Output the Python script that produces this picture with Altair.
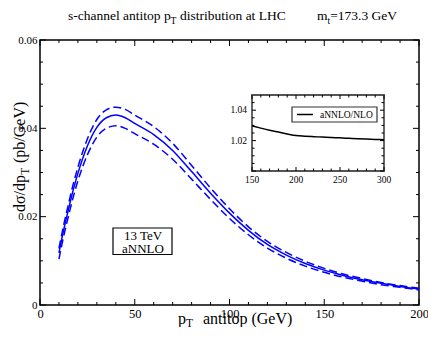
import altair as alt
import pandas as pd

FONT = "Liberation Serif"
W, H = 379, 265
PL, PT = 32, 32  # view origin on the page is (8+PL, 8+PT) = (40, 40)

# ---- data ----
pt = [10, 12.5, 15, 17.5, 20, 25, 30, 35, 40, 45, 50, 60, 70, 80, 90, 100,
      110, 120, 130, 140, 150, 160, 170, 180, 190, 200]
central = [0.0118, 0.0170, 0.0216, 0.0260, 0.0298, 0.0360, 0.0402, 0.0424, 0.0430,
           0.0424, 0.0411, 0.0386, 0.0350, 0.0302, 0.0253, 0.0208, 0.0169, 0.0137,
           0.0113, 0.0094, 0.0079, 0.0067, 0.0057, 0.0049, 0.0042, 0.0036]
upper = [0.0128, 0.0181, 0.0228, 0.0273, 0.0312, 0.0376, 0.0420, 0.0442, 0.0448,
         0.0443, 0.0430, 0.0404, 0.0366, 0.0316, 0.0265, 0.0218, 0.0177, 0.0144,
         0.0119, 0.0099, 0.0083, 0.0070, 0.0060, 0.0051, 0.0044, 0.0038]
lower = [0.0104, 0.0156, 0.0201, 0.0244, 0.0281, 0.0340, 0.0380, 0.0400, 0.0406,
         0.0400, 0.0388, 0.0364, 0.0330, 0.0285, 0.0239, 0.0196, 0.0159, 0.0129,
         0.0106, 0.0088, 0.0074, 0.0063, 0.0054, 0.0046, 0.0040, 0.0034]

ratio_pt = [150, 160, 170, 180, 190, 200, 210, 220, 230, 240, 250, 260, 270, 280, 290, 300]
ratio = [1.0297, 1.0282, 1.0268, 1.0256, 1.0244, 1.0233, 1.0229, 1.0226, 1.0223,
         1.0220, 1.0218, 1.0215, 1.0212, 1.0210, 1.0208, 1.0206]

x_major = [0, 50, 100, 150, 200]
x_minor = [10, 20, 30, 40, 60, 70, 80, 90, 110, 120, 130, 140, 160, 170, 180, 190]
y_major = [0, 0.02, 0.04, 0.06]
y_minor = [0.005, 0.01, 0.015, 0.025, 0.03, 0.035, 0.045, 0.05, 0.055]

ix_major = [150, 200, 250, 300]
ix_minor = [160, 170, 180, 190, 210, 220, 230, 240, 260, 270, 280, 290]
iy_major = [1.00, 1.02, 1.04]
iy_minor = [1.005, 1.01, 1.015, 1.025, 1.03, 1.035, 1.045]
ix_labels = [150, 200, 250, 300]
iy_labels = [1.02, 1.04]

# ---- scales / axes ----
xs = alt.Scale(domain=[0, 200], nice=False, zero=False)
ys = alt.Scale(domain=[0, 0.06], nice=False, zero=False)
xaxis = alt.Axis(values=x_major, ticks=False, domain=False, grid=False,
                 labelFont=FONT, labelFontSize=12.5, labelColor="black",
                 labelPadding=2, title=None, labelFlush=False)
yaxis = alt.Axis(values=y_major, ticks=False, domain=False, grid=False,
                 labelFont=FONT, labelFontSize=11, labelColor="black",
                 labelPadding=3, title=None, labelFlush=False,
                 labelExpr="datum.value == 0 ? '0' : format(datum.value, '.2f')")

IL, IR, IT, IB = 212, 344, 55, 131
isx = alt.Scale(domain=[150, 300], range=[IL, IR], nice=False, zero=False)
isy = alt.Scale(domain=[1.0, 1.05], range=[IB, IT], nice=False, zero=False)


def X(): return alt.X("x:Q", scale=xs, axis=xaxis)
def Y(): return alt.Y("y:Q", scale=ys, axis=yaxis)
def IX(): return alt.X("x:Q", scale=isx, axis=None)
def IY(): return alt.Y("y:Q", scale=isy, axis=None)


def curve(vals, dash=None):
    kw = dict(color="#0000ff", strokeWidth=1.5, interpolate="monotone")
    if dash:
        kw["strokeDash"] = dash
    return alt.Chart(pd.DataFrame({"x": pt, "y": vals})).mark_line(**kw).encode(x=X(), y=Y())


def xticks(vals, ln, xe, top, bottom, width=1.0):
    d = pd.DataFrame({"x": vals})
    b = alt.Chart(d).mark_rule(color="black", strokeWidth=width).encode(
        x=xe(), y=alt.value(bottom), y2=alt.value(bottom - ln))
    t = alt.Chart(d).mark_rule(color="black", strokeWidth=width).encode(
        x=xe(), y=alt.value(top), y2=alt.value(top + ln))
    return [b, t]


def yticks(vals, ln, ye, left, right, width=1.0):
    d = pd.DataFrame({"y": vals})
    l = alt.Chart(d).mark_rule(color="black", strokeWidth=width).encode(
        y=ye(), x=alt.value(left), x2=alt.value(left + ln))
    r = alt.Chart(d).mark_rule(color="black", strokeWidth=width).encode(
        y=ye(), x=alt.value(right), x2=alt.value(right - ln))
    return [l, r]


def label(text, x, y, size, align="left", angle=0, baseline="alphabetic"):
    kw = dict(font=FONT, fontSize=size, color="black", align=align, baseline=baseline)
    if angle:
        kw["angle"] = angle
    return alt.Chart(pd.DataFrame({"t": [text]})).mark_text(**kw).encode(
        x=alt.value(x), y=alt.value(y), text="t:N")


main_layers = [
    curve(upper, [8, 4]),
    curve(central),
    curve(lower, [8, 4]),
]
main_layers += xticks(x_major, 6, X, 0, H)
main_layers += xticks(x_minor, 3, X, 0, H)
main_layers += yticks(y_major, 6, Y, 0, W)
main_layers += yticks(y_minor, 3, Y, 0, W)

# title pieces
TB = -20
main_layers += [
    label("s-channel antitop p", 28, TB, 13.5),
    label("T", 130.6, TB + 3.5, 9.5),
    label("distribution at LHC", 140, TB, 13.5),
    label("m", 277, TB, 13.5),
    label("t", 287.5, TB + 3.5, 9.5),
    label("=173.3 GeV", 290.2, TB, 13.5),
]
# x title
XB = 283.5
main_layers += [
    label("p", 138, XB, 16),
    label("T", 146, XB + 3, 11.5),
    label("antitop (GeV)", 163, XB, 16),
]
# y title (rotated)
main_layers += [
    label("dσ/dp", -15, 172, 16, angle=270),
    label("T", -11.5, 134.7, 11.5, angle=270),
    label("(pb/GeV)", -15, 123, 16, angle=270),
]
# 13 TeV box
box = alt.Chart(pd.DataFrame({"a": [0]})).mark_rect(
    fill="white", stroke="black", strokeWidth=1.2).encode(
    x=alt.value(73), x2=alt.value(132), y=alt.value(188), y2=alt.value(214.5))
main_layers += [
    box,
    label("13 TeV", 103, 200, 13, align="center"),
    label("aNNLO", 103, 213, 13, align="center"),
]

# ---- inset ----
frame = alt.Chart(pd.DataFrame({"x": [150], "x2": [300], "y": [1.0], "y2": [1.05]})).mark_rect(
    fill="white", stroke="#555555", strokeWidth=1.8).encode(
    x=IX(), x2="x2:Q", y=IY(), y2="y2:Q")
inset_layers = [frame]
inset_layers += xticks(ix_major, 4, IX, IT, IB)
inset_layers += xticks(ix_minor, 2.5, IX, IT, IB)
inset_layers += yticks(iy_major, 4, IY, IL, IR)
inset_layers += yticks(iy_minor, 2.5, IY, IL, IR)
inset_layers.append(
    alt.Chart(pd.DataFrame({"x": ratio_pt, "y": ratio})).mark_line(
        color="black", strokeWidth=1.5, interpolate="monotone").encode(x=IX(), y=IY()))
inset_layers.append(
    alt.Chart(pd.DataFrame({"x": ix_labels, "t": [str(v) for v in ix_labels]})).mark_text(
        font=FONT, fontSize=9.5, color="black", baseline="middle").encode(
        x=IX(), y=alt.value(IB + 9), text="t:N"))
inset_layers.append(
    alt.Chart(pd.DataFrame({"y": iy_labels, "t": ["%.2f" % v for v in iy_labels]})).mark_text(
        font=FONT, fontSize=9.5, color="black", baseline="middle", align="right").encode(
        y=IY(), x=alt.value(IL - 5), text="t:N"))
# inset legend
leg_box = alt.Chart(pd.DataFrame({"a": [0]})).mark_rect(
    fill="white", stroke="#333333", strokeWidth=1.2).encode(
    x=alt.value(252), x2=alt.value(337), y=alt.value(67), y2=alt.value(82))
leg_line = alt.Chart(pd.DataFrame({"a": [0]})).mark_rule(
    color="black", strokeWidth=1.5).encode(
    x=alt.value(257), x2=alt.value(273), y=alt.value(74.5))
inset_layers += [leg_box, leg_line, label("aNNLO/NLO", 280, 74.5, 9.5, baseline="middle")]

main = alt.layer(*main_layers)
inset = alt.layer(*inset_layers)

chart = alt.layer(main, inset).resolve_scale(x="independent", y="independent").properties(
    width=W, height=H,
    autosize=alt.AutoSizeParams(type="none"),
    padding={"left": PL, "top": PT, "right": 9, "bottom": 22},
).configure_view(stroke="black", strokeWidth=1.5).configure_axis(
    labelFont=FONT, labelColor="black")

chart.save("out.html", embed_options={"renderer": "svg", "actions": False})
